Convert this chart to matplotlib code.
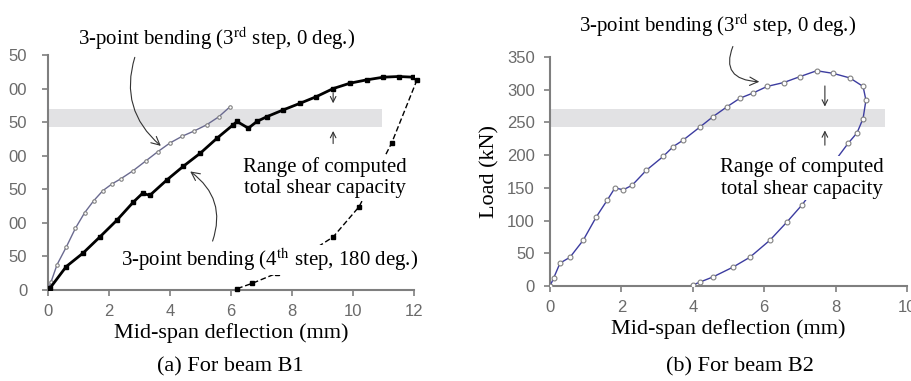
import matplotlib
matplotlib.use('Agg')
import matplotlib.pyplot as plt

plt.rcParams['font.family'] = 'Liberation Serif'
plt.rcParams['mathtext.fontset'] = 'stix'

# beam B1, 3rd step (0 deg.)
b1_s3_x = [0, 0.1, 0.3, 0.6, 0.9, 1.2, 1.5, 1.8, 2.1, 2.4, 2.8, 3.2, 3.6, 4.0, 4.4, 4.8, 5.2, 5.6, 5.97]
b1_s3_y = [0, 12, 38, 64, 92, 115, 133, 148, 158, 166, 178, 192, 206, 219, 229, 237, 246, 258, 273]

# beam B1, 4th step (180 deg.), loading branch
b1_s4_x = [0, 0.07, 0.6, 1.15, 1.7, 2.26, 2.8, 3.1, 3.34, 3.9, 4.43, 5.0, 5.54, 6.07, 6.2, 6.57,
           6.85, 7.17, 7.7, 8.26, 8.8, 9.35, 9.9, 10.45, 11.0, 11.5, 11.97, 12.1]
b1_s4_y = [0, 3, 35, 55, 79, 104, 131, 144, 141, 164, 184, 204, 226, 246, 251, 241,
           251, 258, 268, 278, 288, 300, 308, 313, 317, 318, 317, 313]
# beam B1, 4th step, unloading branch
b1_un_x = [12.1, 11.27, 10.2, 9.35, 7.5, 6.7, 6.2]
b1_un_y = [313, 219, 124, 79, 25, 10, 2]

# beam B2, 3rd step (0 deg.)
b2_x = [0, 0.1, 0.28, 0.56, 0.93, 1.3, 1.6, 1.82, 2.05, 2.3, 2.7, 3.17, 3.45, 3.73, 4.2, 4.57,
        4.96, 5.32, 5.69, 6.08, 6.55, 7.0, 7.47, 7.93, 8.4, 8.77, 8.85, 8.77, 8.6, 8.35,
        7.06, 6.64, 6.16, 5.6, 5.13, 4.57, 4.2, 4.0]
b2_y = [0, 12, 35, 44, 70, 106, 131, 150, 147, 154, 177, 198, 213, 223, 243, 259,
        274, 287, 295, 305, 311, 320, 329, 325, 318, 305, 284, 256, 234, 218,
        124, 98, 70, 44, 29, 14, 6, 1.5]

band_lo, band_hi = 243, 270
y_ticks = [0, 50, 100, 150, 200, 250, 300, 350]
b1_yticklabels = ['0', '50', '00', '50', '00', '50', '00', '50']

fig = plt.figure(figsize=(9.12, 3.81), dpi=100)
ax1 = fig.add_axes([0.0526, 0.2388, 0.4013, 0.6168])
ax2 = fig.add_axes([0.6031, 0.2493, 0.3914, 0.6011])

for ax in (ax1, ax2):
    for s in ['top', 'right']:
        ax.spines[s].set_visible(False)
    for s in ['left', 'bottom']:
        ax.spines[s].set_color('#7f7f7f')
        ax.spines[s].set_linewidth(1.5)
    ax.tick_params(direction='out', length=4, width=1.2, color='#7f7f7f',
                   labelcolor='#6a6a6a', labelsize=12)
    ax.tick_params(axis='x', pad=6)
    ax.set_xlabel('Mid-span deflection (mm)', fontsize=16, labelpad=3)
ax1.tick_params(axis='y', pad=11)
ax2.tick_params(axis='y', pad=7)

arrow = dict(arrowstyle='->', color='#333333', lw=0.8)
box = dict(facecolor='white', edgecolor='none', pad=1)

# (a) beam B1
ax1.set_xlim(0, 12)
ax1.set_ylim(0, 350)
ax1.set_xticks(range(0, 13, 2))
ax1.set_yticks(y_ticks)
ax1.set_yticklabels(b1_yticklabels, family='Liberation Sans')
ax1.set_xticklabels([str(v) for v in range(0, 13, 2)], family='Liberation Sans')
ax1.fill_between([0, 10.95], band_lo, band_hi, color='#e2e2e4', lw=0, zorder=1)
ax1.plot(b1_s3_x, b1_s3_y, color='#6a6a90', lw=1, marker='o', ms=2.5,
         mfc='white', mec='#808080', mew=0.8, zorder=3)
ax1.plot(b1_s4_x, b1_s4_y, color='black', lw=2, marker='s', ms=3,
         mfc='black', mec='black', zorder=3)
ax1.plot(b1_un_x, b1_un_y, color='black', lw=1, ls=(0, (4, 2)), marker='s', ms=3,
         mfc='black', mec='black', zorder=3, clip_on=False)

ax1.annotate('3-point bending (3$^{\\mathrm{rd}}$ step, 0 deg.)', xy=(3.77, 212), xytext=(5.54, 375),
             ha='center', va='center', fontsize=15, annotation_clip=False,
             arrowprops=dict(arrow, connectionstyle='arc3,rad=0.35', relpos=(0.21, 0.0), shrinkA=2))
ax1.annotate('3-point bending (4$^{\\mathrm{th}}$ step, 180 deg.)', xy=(4.59, 179), xytext=(7.28, 45),
             ha='center', va='center', fontsize=15, bbox=box, zorder=5,
             arrowprops=dict(arrow, connectionstyle='arc3,rad=0.4', relpos=(0.3, 1.0), shrinkA=3))
ax1.text(9.08, 168, 'Range of computed\ntotal shear capacity', ha='center', va='center',
         fontsize=15, linespacing=1.15, bbox=box, zorder=5)
ax1.annotate('', xy=(9.35, 274), xytext=(9.35, 298), arrowprops=arrow)
ax1.annotate('', xy=(9.35, 241), xytext=(9.35, 214), arrowprops=arrow)
fig.text(0.252, 0.025, '(a) For beam B1', ha='center', fontsize=16)

# (b) beam B2
ax2.set_xlim(0, 10)
ax2.set_ylim(0, 350)
ax2.set_xticks(range(0, 11, 2))
ax2.set_yticks(y_ticks)
ax2.set_xticklabels([str(v) for v in range(0, 11, 2)], family='Liberation Sans')
ax2.set_yticklabels([str(v) for v in y_ticks], family='Liberation Sans')
ax2.set_ylabel('Load (kN)', fontsize=16, labelpad=5)
ax2.fill_between([0, 9.38], band_lo, band_hi, color='#e2e2e4', lw=0, zorder=1)
ax2.plot(b2_x, b2_y, color='#3c3ca0', lw=1, marker='o', ms=3.5,
         mfc='white', mec='#808080', mew=0.8, zorder=3)
ax2.annotate('3-point bending (3$^{\\mathrm{rd}}$ step, 0 deg.)', xy=(5.94, 312), xytext=(4.68, 399),
             ha='center', va='center', fontsize=15, annotation_clip=False,
             arrowprops=dict(arrow, connectionstyle='arc3,rad=0.8', relpos=(0.57, 0.0), shrinkA=4))
ax2.text(7.06, 165, 'Range of computed\ntotal shear capacity', ha='center', va='center',
         fontsize=15, linespacing=1.15, bbox=box, zorder=5)
ax2.annotate('', xy=(7.7, 270), xytext=(7.7, 310), arrowprops=arrow)
ax2.annotate('', xy=(7.7, 242), xytext=(7.7, 211), arrowprops=arrow)
fig.text(0.811, 0.025, '(b) For beam B2', ha='center', fontsize=16)

fig.savefig('out.png', dpi=100)
